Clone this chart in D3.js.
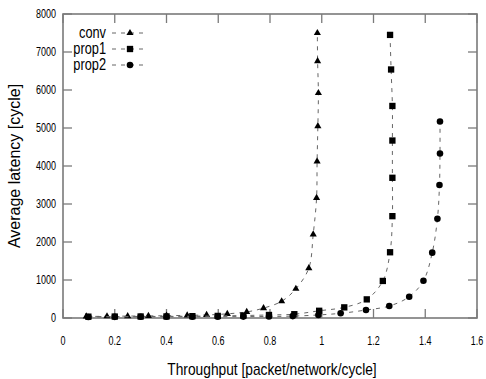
<!DOCTYPE html>
<html>
<head>
<meta charset="utf-8">
<script src="https://cdn.jsdelivr.net/npm/d3@7"></script>
<style>
  body { margin: 0; background: #fff; }
  text { font-family: "Liberation Sans", Arial, sans-serif; fill: #000; }
</style>
</head>
<body id="body">
<script>
// valeurs
var convX = [0.09, 0.17, 0.25, 0.33, 0.40, 0.48, 0.555, 0.635, 0.71, 0.775, 0.845, 0.90, 0.95, 0.967, 0.98, 0.982, 0.985, 0.987, 0.984, 0.983];
var convY = [40, 45, 50, 55, 60, 70, 80, 110, 160, 260, 440, 770, 1310, 2200, 3160, 4120, 5050, 5920, 6760, 7500];

var prop1X = [0.098, 0.20, 0.30, 0.40, 0.50, 0.598, 0.697, 0.796, 0.894, 0.99, 1.087, 1.174, 1.236, 1.264, 1.273, 1.273, 1.273, 1.273, 1.268, 1.264];
var prop1Y = [35, 38, 40, 42, 48, 55, 65, 80, 100, 190, 280, 490, 975, 1730, 2680, 3690, 4670, 5580, 6540, 7450];

var prop2X = [0.098, 0.20, 0.30, 0.40, 0.50, 0.598, 0.697, 0.796, 0.888, 0.987, 1.073, 1.171, 1.261, 1.338, 1.393, 1.427, 1.447, 1.455, 1.457, 1.457];
var prop2Y = [28, 30, 31, 32, 33, 35, 37, 40, 50, 80, 123, 210, 315, 560, 980, 1720, 2610, 3500, 4330, 5170];

var seriesNames = ["conv", "prop1", "prop2"];
var xTicks = [0, 0.2, 0.4, 0.6, 0.8, 1, 1.2, 1.4, 1.6];
var yTicks = [0, 1000, 2000, 3000, 4000, 5000, 6000, 7000, 8000];

var width = 486, height = 379;
var pLeft = 63, pRight = 477, pTop = 14, pBottom = 318;

var x = d3.scaleLinear().domain([0, 1.6]).range([pLeft, pRight]);
var y = d3.scaleLinear().domain([0, 8000]).range([pBottom, pTop]);

var svg = d3.select("body").append("svg")
    .attr("width", width)
    .attr("height", height);

var frameColor = "#7a7a7a";
var tickLen = 9;

// ticks (inside, mirrored)
var tk = svg.append("g").attr("stroke", frameColor).attr("stroke-width", 1.3);
xTicks.forEach(function (t) {
    tk.append("line").attr("x1", x(t)).attr("x2", x(t)).attr("y1", pBottom).attr("y2", pBottom - tickLen);
    tk.append("line").attr("x1", x(t)).attr("x2", x(t)).attr("y1", pTop).attr("y2", pTop + tickLen);
});
yTicks.forEach(function (t) {
    tk.append("line").attr("x1", pLeft).attr("x2", pLeft + tickLen).attr("y1", y(t)).attr("y2", y(t));
    tk.append("line").attr("x1", pRight).attr("x2", pRight - tickLen).attr("y1", y(t)).attr("y2", y(t));
});

svg.append("rect")
    .attr("x", pLeft).attr("y", pTop)
    .attr("width", pRight - pLeft).attr("height", pBottom - pTop)
    .attr("fill", "none").attr("stroke", frameColor).attr("stroke-width", 1.6);

// tick labels
xTicks.forEach(function (t) {
    svg.append("text")
        .attr("transform", "translate(" + x(t) + ",345) scale(0.75,1)")
        .attr("text-anchor", "middle")
        .style("font-size", "12px")
        .text(d3.format("")(t));
});
yTicks.forEach(function (t) {
    svg.append("text")
        .attr("transform", "translate(" + (pLeft - 7) + "," + (y(t) + 4) + ") scale(0.75,1)")
        .attr("text-anchor", "end")
        .style("font-size", "12px")
        .text(t);
});

svg.append("text")
    .attr("transform", "translate(" + ((pLeft + pRight) / 2 + 2) + ",375) scale(0.86,1)")
    .attr("text-anchor", "middle")
    .style("font-size", "16px")
    .text("Throughput [packet/network/cycle]");

svg.append("text")
    .attr("transform", "translate(20," + ((pTop + pBottom) / 2) + ") rotate(-90)")
    .attr("text-anchor", "middle")
    .style("font-size", "16px")
    .text("Average latency [cycle]");

// series
var allX = [convX, prop1X, prop2X];
var allY = [convY, prop1Y, prop2Y];

var line = d3.line()
    .x(function (d) { return x(d[0]); })
    .y(function (d) { return y(d[1]); })
    .curve(d3.curveCatmullRom);

var symbols = [d3.symbolTriangle, d3.symbolSquare, d3.symbolCircle];
var symSize = [22, 40, 34];

function marker(g, i, px, py) {
    g.append("path")
        .attr("d", d3.symbol().type(symbols[i]).size(symSize[i]))
        .attr("transform", "translate(" + px + "," + py + ")")
        .attr("fill", "#000");
}

seriesNames.forEach(function (name, i) {
    var pts = allX[i].map(function (v, j) { return [v, allY[i][j]]; });
    svg.append("path")
        .datum(pts)
        .attr("d", line)
        .attr("fill", "none")
        .attr("stroke", "#666")
        .attr("stroke-width", 1)
        .attr("stroke-dasharray", "4,5");
    var g = svg.append("g");
    pts.forEach(function (p) { marker(g, i, x(p[0]), y(p[1])); });
});

// legend
seriesNames.forEach(function (name, i) {
    var ly = 33 + i * 16;
    svg.append("text")
        .attr("transform", "translate(106," + (ly + 5) + ") scale(0.8,1)")
        .attr("text-anchor", "end")
        .style("font-size", "16px")
        .text(name);
    svg.append("line")
        .attr("x1", 112).attr("x2", 143).attr("y1", ly).attr("y2", ly)
        .attr("stroke", "#666").attr("stroke-width", 1)
        .attr("stroke-dasharray", "4,5");
    var g = svg.append("g");
    marker(g, i, 130, ly);
});
</script>
</body>
</html>
